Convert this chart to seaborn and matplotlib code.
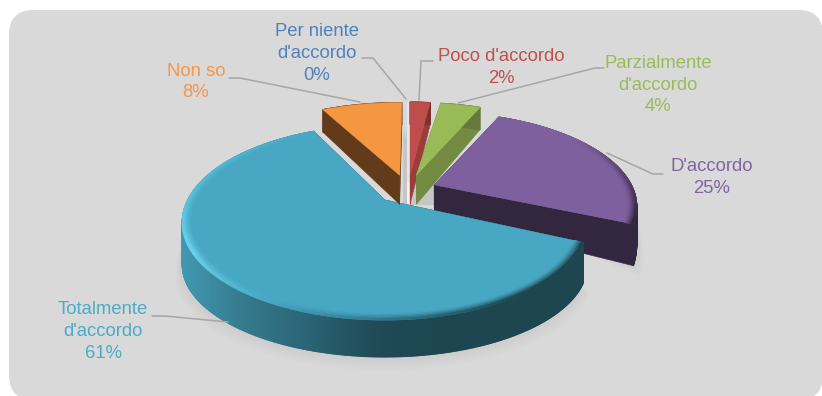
import numpy as np
import matplotlib
matplotlib.use("Agg")
import matplotlib.pyplot as plt
from matplotlib.patches import Polygon, FancyBboxPatch
from matplotlib.collections import PolyCollection
import seaborn as sns

# Survey answers, in clockwise order from twelve o'clock
categories = ["Per niente\nd'accordo", "Poco d'accordo", "Parzialmente\nd'accordo",
              "D'accordo", "Totalmente\nd'accordo", "Non so"]
shares = [0, 2, 4, 25, 61, 8]
explosion = [0.17, 0.17, 0.17, 0.145, 0.178, 0.17]
turn_deg = [0, 0, 1.5, 1.8, 3.0, 0.8]
lift_px = [0, 0, 0, 0, 2, 0]
stretch = [1, 1, 1, 1, 1.03, 1]

label_colors = ["#4F81BD", "#C0504D", "#9BBB59", "#8064A2", "#4BACC6", "#F79646"]
top_colors = ["#E6E6E6", "#BE4D4B", "#98BA57", "#7F609F", "#48A8C3", "#F59640"]
face_colors = ["#F2F2F2", "#9A3D3A", "#728A42", "#33263F", "#1D4650", "#633A1A"]
label_xy = [(317, 53.5), (501, 67.5), (658, 85), (712, 177.5), (103, 331.5), (196, 82)]
leaders = [[(362, 58), (373, 58), (406, 99)],
           [(433, 61), (421, 61), (419, 100)],
           [(604, 68), (595, 68), (458, 103)],
           [(663, 174), (653, 174), (607, 153)],
           [(152, 316), (165, 316), (228, 322)],
           [(229, 78), (240, 78), (360, 102)]]

sns.set_theme(style="white")
plt.rcParams["font.family"] = ["Liberation Sans", "DejaVu Sans"]

fig = plt.figure(figsize=(8.22, 3.96), dpi=100, facecolor="white")
ax = fig.add_axes([0, 0, 1, 1])
ax.set_xlim(0, 822)
ax.set_ylim(396, 0)
ax.axis("off")

# Card behind the chart
ax.add_patch(FancyBboxPatch((34, 35), 764, 340, boxstyle="round,pad=25,rounding_size=25",
                            fc="#D9D9D9", ec="none", zorder=0))

# Projection of the tilted pie
CX, CY = 408, 190
RX, RY = 197, 89.5
PERSP = 0.2316
DEPTH_Y = [105, 175, 225, 320]
DEPTH_PX = [22, 29, 42, 37]


def thickness(screen_y):
    return np.interp(screen_y, DEPTH_Y, DEPTH_PX)


def project(theta, radius, apex, z=0.0, squash=1.0):
    """Screen position of a point on a slice whose apex sits at `apex`."""
    x = radius * np.sin(theta)
    y = radius * np.cos(theta)
    w = 1.0 / (1.0 + PERSP * y)
    sy = apex[1] - RY * squash * y * w
    return np.column_stack([apex[0] + RX * x * w, sy + z * thickness(sy)])


def quads(a, b):
    return [np.array([a[i], a[i + 1], b[i + 1], b[i]]) for i in range(len(a) - 1)]


def fan(ax_, verts, colors, z):
    ax_.add_collection(PolyCollection(verts, facecolors=colors, edgecolors=colors,
                                      linewidths=0.8, zorder=z))


fractions = np.array(shares, dtype=float) / sum(shares)
edges = np.concatenate([[0], np.cumsum(fractions)]) * 2 * np.pi
mids = (edges[:-1] + edges[1:]) / 2
apexes = [(CX + e * RX * np.sin(m), CY - e * RY * np.cos(m) - up)
          for e, m, up in zip(explosion, mids, lift_px)]
turns = np.radians(turn_deg)

# Soft cast shadow below the two large slices
for i in (3, 4):
    t = np.linspace(edges[i], edges[i + 1], 160) + turns[i]
    for step in range(7):
        ring = project(t, 1.0 + 0.005 * step, apexes[i], 1.0 + 0.04 * step, stretch[i])
        ax.add_patch(Polygon(np.vstack([ring, [apexes[i]]]), fc="#9A9A9A", ec="none",
                             alpha=0.03, zorder=1))

# Shadow in the gap left by the small slices
gap_x0, gap_x1 = apexes[0][0] - 5, apexes[3][0]
gap_rows = sns.blend_palette(["#D9D9D9", "#C6C6C6"], 8)
for n, col in enumerate(gap_rows):
    ax.fill_between([gap_x0, gap_x1], 125 + 2 * n, 205, color=col, lw=0, zorder=1.5)

wall_maps = {
    1: sns.blend_palette(["#9A3D3A", "#7E302E"], as_cmap=True),
    2: sns.blend_palette(["#728A42", "#64793A"], as_cmap=True),
    3: sns.blend_palette(["#33263F", "#33263F"], as_cmap=True),
    4: sns.blend_palette(["#4199B3", "#35798D", "#2A6374", "#1F4A56", "#1D4650"], as_cmap=True),
    5: sns.blend_palette(["#633A1A", "#633A1A"], as_cmap=True),
}
rim_maps = {
    3: sns.blend_palette(["#7F609F", "#7F609F", "#5A4470", "#33263F"], as_cmap=True),
    4: sns.blend_palette(["#1D4650", "#1D4650", "#2F7186", "#48A8C3", "#6BD3EE",
                          "#57BFDB", "#4DB4D2", "#48A8C3"], as_cmap=True),
}

# Back-to-front painting order
for i in [5, 0, 1, 2, 3, 4]:
    apex = apexes[i]
    start, stop = edges[i] + turns[i], edges[i + 1] + turns[i]
    if shares[i] == 0:
        # An empty slice only shows as a pale sliver on its radial edge
        a = project(np.array([start]), 1.0, apex)[0]
        b = project(np.array([start]), 0.0, apex, 1.0)[0]
        ax.plot([a[0], b[0]], [a[1], b[1]], color=top_colors[i], lw=2.2, zorder=2,
                solid_capstyle="butt")
        ax.plot([b[0], b[0]], [b[1] - 22, b[1]], color=face_colors[i], lw=2.2, zorder=2,
                solid_capstyle="butt")
        continue

    zbase = 2 + 0.1 * i
    t = np.linspace(start, stop, max(60, int(shares[i] * 12)))
    rim_top = project(t, 1.0, apex, 0.0, stretch[i])
    rim_bottom = project(t, 1.0, apex, 1.0, stretch[i])
    apex_bottom = project(np.array([0.0]), 0.0, apex, 1.0)[0]

    # Radial cut faces
    for j in (0, -1):
        ax.add_patch(Polygon([apex, rim_top[j], rim_bottom[j], apex_bottom],
                             fc=face_colors[i], ec=face_colors[i], lw=0.4, zorder=zbase))

    # Outer wall, shaded across its width
    span = np.clip((rim_top[:, 0] - 180) / 260, 0, 1)
    colors = [wall_maps[i](s) for s in (span[:-1] + span[1:]) / 2]
    fan(ax, quads(rim_top, rim_bottom), colors, zbase + 0.01)

    # Top face
    ax.add_patch(Polygon(np.vstack([[apex], rim_top]), fc=top_colors[i], ec=top_colors[i],
                         lw=0.4, zorder=zbase + 0.02))

    # Bevel along the outer edge of the large slices
    if i in rim_maps:
        cmap = rim_maps[i]
        u = (t - start) / (stop - start)
        base = np.array(matplotlib.colors.to_rgb(top_colors[i]))
        layers = 5
        for k in range(layers):
            a_ring = project(t, 1.0 - 0.008 * (layers - k), apex, 0.0, stretch[i])
            b_ring = project(t, 1.0 - 0.008 * (layers - k - 1), apex, 0.0, stretch[i])
            mix = ((k + 1) / layers) ** 1.5
            cols = [tuple(base * (1 - mix) + np.array(cmap(uu)[:3]) * mix)
                    for uu in (u[:-1] + u[1:]) / 2]
            fan(ax, quads(a_ring, b_ring), cols, zbase + 0.03 + 0.001 * k)

# Leader lines and labels
for path in leaders:
    xs, ys = zip(*path)
    ax.plot(xs, ys, color="#A6A6A6", lw=1.1, zorder=6, solid_joinstyle="miter")

for name, share, (x, y), color in zip(categories, shares, label_xy, label_colors):
    ax.text(x, y, f"{name}\n{share}%", color=color, ha="center", va="center",
            fontsize=13.3, linespacing=1.36, zorder=7)

fig.savefig("out.png", dpi=100, facecolor="white")
